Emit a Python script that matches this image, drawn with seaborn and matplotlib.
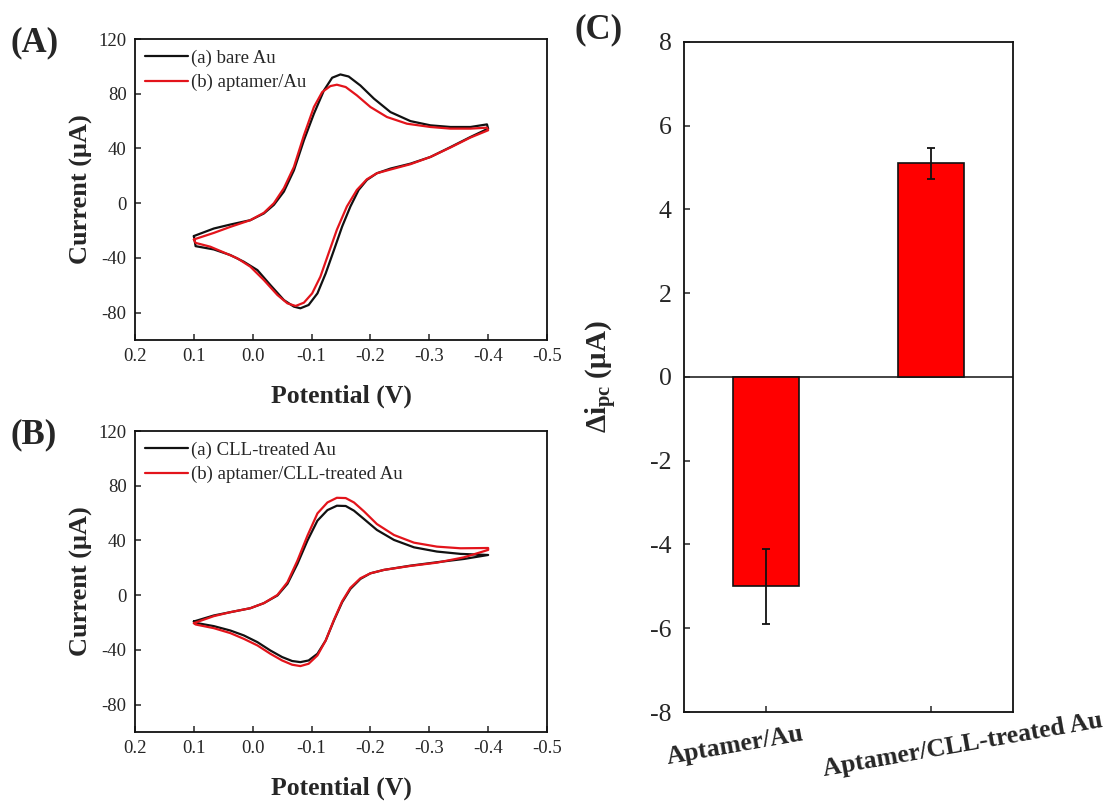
import matplotlib
matplotlib.use("Agg")
import matplotlib.pyplot as plt
import matplotlib.transforms as mtransforms
import seaborn as sns
import pandas as pd

# ---- Cyclic voltammograms (potential in V, current in uA), sweep 0.1 -> -0.4 -> 0.1 ----
bare_E = [0.100, 0.066, 0.038, 0.004, -0.019, -0.036, -0.053, -0.070, -0.087, -0.104,
          -0.121, -0.135, -0.149, -0.163, -0.183, -0.206, -0.234, -0.268, -0.302, -0.336,
          -0.370, -0.398, -0.400,
          -0.370, -0.336, -0.302, -0.268, -0.234, -0.211, -0.194, -0.180, -0.166, -0.152,
          -0.138, -0.124, -0.110, -0.095, -0.081, -0.070, -0.053, -0.030, -0.008, 0.015,
          0.038, 0.066, 0.097, 0.100]
bare_I = [-24.0, -18.5, -15.6, -12.4, -7.5, -1.2, 8.5, 24.0, 46.0, 65.4,
          82.4, 91.7, 94.1, 92.6, 86.0, 76.4, 66.6, 60.0, 56.9, 55.7,
          55.7, 57.6, 54.5,
          48.4, 41.0, 33.8, 28.9, 25.3, 21.9, 17.0, 9.7, -2.4, -17.0,
          -34.3, -51.3, -65.9, -74.4, -76.8, -75.6, -70.8, -59.8, -48.9, -42.8,
          -37.9, -33.8, -31.4, -24.0]

apt_E = [0.100, 0.066, 0.038, 0.004, -0.019, -0.036, -0.053, -0.070, -0.087, -0.104,
         -0.118, -0.132, -0.143, -0.158, -0.177, -0.200, -0.228, -0.262, -0.302, -0.336,
         -0.370, -0.398, -0.400,
         -0.370, -0.336, -0.302, -0.268, -0.234, -0.211, -0.194, -0.177, -0.160, -0.143,
         -0.129, -0.115, -0.101, -0.087, -0.073, -0.059, -0.042, -0.019, 0.004, 0.026,
         0.049, 0.072, 0.097, 0.100]
apt_I = [-26.5, -21.7, -17.3, -12.4, -7.0, 0.0, 11.0, 26.5, 49.6, 70.3,
         81.2, 85.6, 86.6, 84.9, 78.8, 70.3, 63.0, 58.1, 55.7, 54.5,
         54.5, 55.2, 53.3,
         48.0, 40.7, 33.8, 28.5, 24.6, 21.9, 17.5, 9.7, -2.4, -19.4,
         -36.5, -53.7, -65.9, -72.7, -75.1, -73.2, -67.1, -56.2, -46.4, -40.3,
         -36.0, -31.8, -29.0, -26.5]

cll_E = [0.100, 0.066, 0.038, 0.004, -0.019, -0.042, -0.059, -0.076, -0.093, -0.110,
         -0.127, -0.143, -0.158, -0.172, -0.189, -0.211, -0.240, -0.274, -0.313, -0.353,
         -0.400,
         -0.359, -0.313, -0.268, -0.223, -0.200, -0.183, -0.166, -0.152, -0.138, -0.124,
         -0.110, -0.095, -0.081, -0.067, -0.050, -0.030, -0.008, 0.015, 0.038, 0.066,
         0.097, 0.100]
cll_I = [-19.2, -14.8, -12.4, -9.5, -5.8, -0.2, 8.3, 22.9, 39.9, 54.5,
         62.2, 65.4, 65.2, 61.8, 55.7, 47.7, 40.4, 35.0, 31.9, 30.2,
         29.4,
         26.5, 24.1, 21.6, 18.5, 16.0, 11.9, 4.6, -5.1, -18.5, -33.1,
         -42.8, -47.7, -48.9, -48.1, -45.2, -40.4, -34.3, -29.4, -25.8, -22.6,
         -20.2, -19.2]

aptcll_E = [0.100, 0.066, 0.038, 0.004, -0.019, -0.042, -0.059, -0.076, -0.093, -0.110,
            -0.127, -0.143, -0.158, -0.172, -0.189, -0.211, -0.240, -0.274, -0.313, -0.353,
            -0.400, -0.400,
            -0.359, -0.313, -0.268, -0.223, -0.200, -0.183, -0.166, -0.152, -0.138, -0.124,
            -0.110, -0.095, -0.081, -0.067, -0.050, -0.030, -0.008, 0.015, 0.038, 0.066,
            0.097, 0.100]
aptcll_I = [-20.4, -15.3, -12.4, -9.5, -5.8, 0.2, 9.5, 25.3, 43.5, 59.8,
            67.8, 71.2, 71.0, 67.8, 61.3, 52.0, 44.0, 38.4, 35.5, 34.3,
            34.5, 33.1,
            27.7, 23.8, 21.4, 18.5, 16.0, 12.4, 5.4, -4.4, -18.0, -33.1,
            -44.0, -50.1, -51.8, -50.8, -47.7, -42.8, -36.7, -31.9, -27.7, -24.1,
            -21.4, -20.4]

# ---- Peak current change ----
bar_labels = ["Aptamer/Au", "Aptamer/CLL-treated Au"]
delta_ipc = [-5.0, 5.1]
delta_err = [0.9, 0.38]

x_ticks = [0.2, 0.1, 0.0, -0.1, -0.2, -0.3, -0.4, -0.5]
x_ticklabels = ["0.2", "0.1", "0.0", "-0.1", "-0.2", "-0.3", "-0.4", "-0.5"]
cv_yticks = [-80, -40, 0, 40, 80, 120]
bar_yticks = [-8, -6, -4, -2, 0, 2, 4, 6, 8]

sns.set_style("ticks")
plt.rcParams["font.family"] = ["Liberation Serif", "DejaVu Serif"]
plt.rcParams["mathtext.fontset"] = "custom"
plt.rcParams["mathtext.rm"] = "Liberation Serif"
plt.rcParams["mathtext.bf"] = "Liberation Serif:bold"
plt.rcParams["mathtext.it"] = "Liberation Serif:italic"
plt.rcParams["axes.unicode_minus"] = False
plt.rcParams["axes.linewidth"] = 1.3
plt.rcParams["xtick.direction"] = "in"
plt.rcParams["ytick.direction"] = "in"
plt.rcParams["lines.solid_joinstyle"] = "round"

BLACK = "#111111"
RED = "#e3141b"

fig = plt.figure(figsize=(11.10, 8.01), dpi=100)
ax_a = fig.add_axes([0.1216, 0.5755, 0.3712, 0.3758])
ax_b = fig.add_axes([0.1216, 0.0861, 0.3712, 0.3758])
ax_c = fig.add_axes([0.6162, 0.1111, 0.2964, 0.8365])


def cv_panel(ax, curves, letter):
    for E, I, color, label in curves:
        df = pd.DataFrame({"E": E, "I": I})
        sns.lineplot(data=df, x="E", y="I", sort=False, estimator=None,
                     color=color, lw=1.6, label=label, ax=ax)
    ax.set_xlim(0.2, -0.5)
    ax.set_ylim(-100, 120)
    ax.set_xticks(x_ticks)
    ax.set_xticklabels(x_ticklabels)
    ax.set_yticks(cv_yticks)
    ax.tick_params(labelsize=13.5, length=4.5, width=1.1, pad=6)
    ax.set_xlabel("Potential (V)", fontsize=18.5, fontweight="bold", labelpad=14)
    ax.set_ylabel("Current (μA)", fontsize=19, fontweight="bold", labelpad=4)
    leg = ax.legend(loc="upper left", frameon=False, fontsize=13.5,
                    handlelength=2.3, handletextpad=0.15, borderaxespad=0.1,
                    labelspacing=0.4, borderpad=0.45)
    for line in leg.get_lines():
        line.set_linewidth(1.6)
    for s in ax.spines.values():
        s.set_visible(True)
        s.set_color(BLACK)
    fig.text(ax.get_position().x0 - 0.112, ax.get_position().y1 - 0.005, letter,
             fontsize=25, fontweight="bold", ha="left", va="center")


cv_panel(ax_a, [(bare_E, bare_I, BLACK, "(a) bare Au"),
                (apt_E, apt_I, RED, "(b) aptamer/Au")], "(A)")
cv_panel(ax_b, [(cll_E, cll_I, BLACK, "(a) CLL-treated Au"),
                (aptcll_E, aptcll_I, RED, "(b) aptamer/CLL-treated Au")], "(B)")

# ---- Bar panel ----
bar_df = pd.DataFrame({"sample": bar_labels, "value": delta_ipc})
sns.barplot(data=bar_df, x="sample", y="value", color="#ff0000", saturation=1,
            edgecolor=BLACK, linewidth=1.2, width=0.4, errorbar=None, ax=ax_c)
ax_c.errorbar(range(len(delta_ipc)), delta_ipc, yerr=delta_err, fmt="none",
              ecolor=BLACK, elinewidth=1.3, capsize=2.6, capthick=1.3)
ax_c.axhline(0, color=BLACK, lw=1.1, zorder=0.5)
ax_c.set_xlim(-0.5, 1.5)
ax_c.set_ylim(-8, 8)
ax_c.set_yticks(bar_yticks)
ax_c.tick_params(axis="y", labelsize=18.5, length=4, width=1.1, pad=9)
ax_c.tick_params(axis="x", length=4, width=1.1, pad=24)
ax_c.set_xticks(range(len(bar_labels)))
ax_c.set_xticklabels(bar_labels, rotation=10, fontsize=18.5, fontweight="bold",
                     ha="center", va="center", rotation_mode="anchor")
# category labels sit spread apart beneath their ticks
for lbl, dx in zip(ax_c.get_xticklabels(), (-31, 32)):
    lbl.set_transform(lbl.get_transform() +
                      mtransforms.ScaledTranslation(dx / 100, 0, fig.dpi_scale_trans))
ax_c.set_xlabel("")
ax_c.set_ylabel(r"$\mathbf{\Delta i_{pc}}$" + " (μA)", fontsize=21, fontweight="bold",
                labelpad=22)
for s in ax_c.spines.values():
    s.set_visible(True)
    s.set_color(BLACK)
fig.text(0.518, 0.963, "(C)", fontsize=25, fontweight="bold", ha="left", va="center")

fig.savefig("out.png", dpi=100)
